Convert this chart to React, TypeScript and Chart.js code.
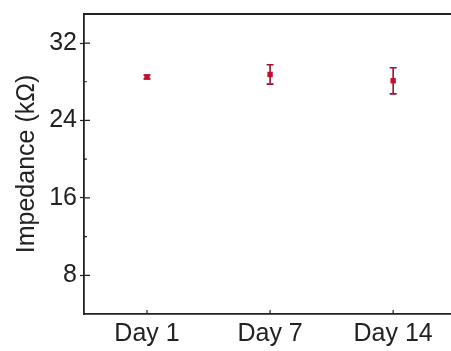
import React, { useEffect, useRef } from "react";
import { Chart, registerables } from "chart.js";

Chart.register(...registerables);

// Impedance measured on each day (kΩ), mean and standard deviation
const days = ["Day 1", "Day 7", "Day 14"];
const impedanceMean = [28.5, 28.75, 28.1];
const impedanceErr = [0.2, 1.0, 1.35];
const yMajorTicks = [8, 16, 24, 32];
const yMinorTicks = [12, 20, 28];

const AXIS_COLOR = "#222222";
const MARK_COLOR = "#c40f2c";
const BAR_COLOR = "#9c1030";
const FONT = "'Liberation Sans', Arial, sans-serif";
const FONT_SIZE = 25;

// Error bars with caps, drawn behind the markers
const errorBarPlugin = {
  id: "errorBars",
  beforeDatasetsDraw(chart: any) {
    const { ctx, scales } = chart;
    const xs = scales.x;
    const ys = scales.y;
    ctx.save();
    ctx.strokeStyle = BAR_COLOR;
    ctx.lineWidth = 1.6;
    impedanceMean.forEach((m, i) => {
      const e = impedanceErr[i];
      const px = xs.getPixelForValue(i + 1);
      const top = ys.getPixelForValue(m + e);
      const bot = ys.getPixelForValue(m - e);
      const cap = 3.5;
      ctx.beginPath();
      ctx.moveTo(px, top);
      ctx.lineTo(px, bot);
      ctx.moveTo(px - cap, top);
      ctx.lineTo(px + cap, top);
      ctx.moveTo(px - cap, bot);
      ctx.lineTo(px + cap, bot);
      ctx.stroke();
    });
    ctx.restore();
  },
};

// Top frame line, running to the right edge, and inward-facing ticks
const framePlugin = {
  id: "frame",
  afterDraw(chart: any) {
    const { ctx, chartArea, scales } = chart;
    const xs = scales.x;
    const ys = scales.y;
    ctx.save();
    ctx.strokeStyle = AXIS_COLOR;
    ctx.lineWidth = 1.8;
    ctx.beginPath();
    ctx.moveTo(chartArea.left, chartArea.top);
    ctx.lineTo(chart.width, chartArea.top);
    ctx.moveTo(chartArea.right, chartArea.bottom);
    ctx.lineTo(chart.width, chartArea.bottom);
    ctx.stroke();
    ctx.lineWidth = 1.2;
    ctx.beginPath();
    yMajorTicks.forEach((v) => {
      const py = ys.getPixelForValue(v);
      ctx.moveTo(chartArea.left, py);
      ctx.lineTo(chartArea.left + 6, py);
    });
    yMinorTicks.forEach((v) => {
      const py = ys.getPixelForValue(v);
      ctx.moveTo(chartArea.left, py);
      ctx.lineTo(chartArea.left + 3, py);
    });
    days.forEach((_, i) => {
      const px = xs.getPixelForValue(i + 1);
      ctx.moveTo(px, chartArea.bottom);
      ctx.lineTo(px, chartArea.bottom - 4);
    });
    ctx.stroke();
    ctx.restore();
  },
};

export default function App() {
  const canvasRef = useRef<HTMLCanvasElement | null>(null);

  useEffect(() => {
    document.body.style.margin = "0";
    const canvas = canvasRef.current;
    if (!canvas) return;
    const chart = new Chart(canvas, {
      type: "scatter",
      data: {
        datasets: [
          {
            data: impedanceMean.map((y, i) => ({ x: i + 1, y })),
            backgroundColor: MARK_COLOR,
            borderColor: MARK_COLOR,
            pointStyle: "rect",
            pointRadius: 3.8,
            borderWidth: 0,
          },
        ],
      },
      options: {
        responsive: false,
        animation: false,
        layout: { autoPadding: false, padding: { top: 14, right: 0, left: 0, bottom: 0 } },
        plugins: {
          legend: { display: false },
          tooltip: { enabled: false },
        },
        scales: {
          x: {
            type: "linear",
            min: 0.488,
            max: 3.47,
            afterBuildTicks: (s: any) => {
              s.ticks = days.map((_, i) => ({ value: i + 1 }));
            },
            afterFit: (s: any) => {
              s.height = 37;
              s.paddingLeft = 0;
              s.paddingRight = 0;
            },
            grid: { display: true, drawOnChartArea: false, drawTicks: false },
            border: { display: true, color: AXIS_COLOR, width: 1.8 },
            ticks: {
              padding: 5,
              color: AXIS_COLOR,
              font: { family: FONT, size: FONT_SIZE },
              callback: (v: any) => days[Number(v) - 1] ?? "",
            },
          },
          y: {
            min: 4,
            max: 35,
            afterBuildTicks: (s: any) => {
              s.ticks = yMajorTicks.map((v) => ({ value: v }));
            },
            afterFit: (s: any) => {
              s.width = 84;
              s.paddingTop = 0;
              s.paddingBottom = 0;
            },
            grid: {
              display: true,
              drawOnChartArea: false,
              drawTicks: true,
              tickLength: 4,
              tickColor: AXIS_COLOR,
              tickWidth: 1.2,
            },
            border: { display: true, color: AXIS_COLOR, width: 1.8 },
            ticks: {
              padding: 3,
              color: AXIS_COLOR,
              font: { family: FONT, size: FONT_SIZE },
            },
            title: {
              display: true,
              text: "Impedance (kΩ)",
              color: AXIS_COLOR,
              font: { family: FONT, size: FONT_SIZE },
              padding: { top: 12, bottom: 0 },
            },
          },
        },
      },
      plugins: [errorBarPlugin, framePlugin],
    });
    return () => chart.destroy();
  }, []);

  return (
    <div style={{ width: 451, height: 351, background: "#fff" }}>
      <canvas ref={canvasRef} width={451} height={351} />
    </div>
  );
}
